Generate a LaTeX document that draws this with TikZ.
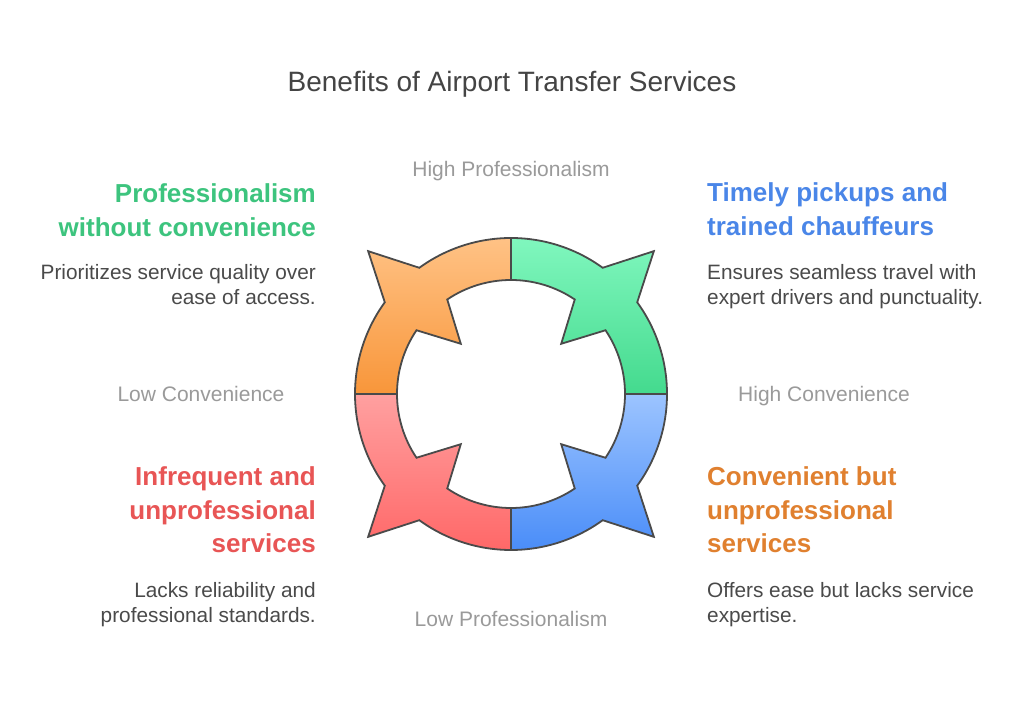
\documentclass[tikz,border=0pt]{standalone}
\usepackage{fontspec}
\setmainfont{Liberation Sans}
\definecolor{titlec}{HTML}{444444}
\definecolor{bodyc}{HTML}{4A4A4A}
\definecolor{axisc}{HTML}{9A9A9A}
\definecolor{edgec}{HTML}{4A4A4A}
\definecolor{greenh}{HTML}{3DC47E}
\definecolor{blueh}{HTML}{4A86E8}
\definecolor{redh}{HTML}{E85555}
\definecolor{orangeh}{HTML}{E0802F}
\definecolor{orT}{HTML}{FFC285}
\definecolor{orB}{HTML}{F8963A}
\definecolor{grT}{HTML}{80F7BE}
\definecolor{grB}{HTML}{44DA8E}
\definecolor{blT}{HTML}{9CC4FF}
\definecolor{blB}{HTML}{4A8DF8}
\definecolor{rdT}{HTML}{FFA0A0}
\definecolor{rdB}{HTML}{FF6868}
\begin{document}
\begin{tikzpicture}[x=1pt,y=1pt,
  titlestyle/.style={font=\fontsize{28}{33}\selectfont, text=titlec, inner sep=0pt},
  axisstyle/.style={font=\fontsize{21}{25}\selectfont, text=axisc, inner sep=0pt},
  headstyle/.style={font=\fontsize{26}{33.5}\selectfont\bfseries, inner sep=0pt},
  bodystyle/.style={font=\fontsize{20.8}{25}\selectfont, text=bodyc, inner sep=0pt},
  seg/.style={draw=edgec, line width=1.8pt, line join=miter}]
\useasboundingbox (0,0) rectangle (1024,722);
\fill[white] (0,0) rectangle (1024,722);

\begin{scope}[shift={(511,328)}]
  % top-left (orange)
  \draw[seg, top color=orT, bottom color=orB]
    (180:156) arc[start angle=180, end angle=144, radius=156] -- (135:202) -- (126:156)
    arc[start angle=126, end angle=90, radius=156] -- (90:114)
    arc[start angle=90, end angle=124, radius=114] -- (135:71) -- (146:114)
    arc[start angle=146, end angle=180, radius=114] -- cycle;
  % top-right (green)
  \draw[seg, top color=grT, bottom color=grB]
    (90:156) arc[start angle=90, end angle=54, radius=156] -- (45:202) -- (36:156)
    arc[start angle=36, end angle=0, radius=156] -- (0:114)
    arc[start angle=0, end angle=34, radius=114] -- (45:71) -- (56:114)
    arc[start angle=56, end angle=90, radius=114] -- cycle;
  % bottom-right (blue)
  \draw[seg, top color=blT, bottom color=blB]
    (0:156) arc[start angle=0, end angle=-36, radius=156] -- (-45:202) -- (-54:156)
    arc[start angle=-54, end angle=-90, radius=156] -- (-90:114)
    arc[start angle=-90, end angle=-56, radius=114] -- (-45:71) -- (-34:114)
    arc[start angle=-34, end angle=0, radius=114] -- cycle;
  % bottom-left (red)
  \draw[seg, top color=rdT, bottom color=rdB]
    (-90:156) arc[start angle=-90, end angle=-126, radius=156] -- (-135:202) -- (-144:156)
    arc[start angle=-144, end angle=-180, radius=156] -- (-180:114)
    arc[start angle=-180, end angle=-146, radius=114] -- (-135:71) -- (-124:114)
    arc[start angle=-124, end angle=-90, radius=114] -- cycle;
\end{scope}

\node[titlestyle, anchor=base] (title) at (512,630.3) {Benefits of Airport Transfer Services};

\node[axisstyle, anchor=base] (hp) at (511,545.3) {High Professionalism};
\node[axisstyle, anchor=base] (lp) at (511,95.3) {Low Professionalism};
\node[axisstyle, anchor=base] (lc) at (201,320) {Low Convenience};
\node[axisstyle, anchor=base] (hc) at (824,320) {High Convenience};

\node[headstyle, text=greenh, align=right, anchor=base east] (tlh) at (316,485.5) {Professionalism\\without convenience};
\node[bodystyle, align=right, anchor=base east] (tlb) at (316,417) {Prioritizes service quality over\\ease of access.};

\node[headstyle, text=blueh, align=left, anchor=base west] (trh) at (707,486.5) {Timely pickups and\\trained chauffeurs};
\node[bodystyle, align=left, anchor=base west] (trb) at (707,417) {Ensures seamless travel with\\expert drivers and punctuality.};

\node[headstyle, text=redh, align=right, anchor=base east] (blh) at (316,169) {Infrequent and\\unprofessional\\services};
\node[bodystyle, align=right, anchor=base east] (blb) at (316,99) {Lacks reliability and\\professional standards.};

\node[headstyle, text=orangeh, align=left, anchor=base west] (brh) at (707,169) {Convenient but\\unprofessional\\services};
\node[bodystyle, align=left, anchor=base west] (brb) at (707,99) {Offers ease but lacks service\\expertise.};
\end{tikzpicture}
\end{document}
